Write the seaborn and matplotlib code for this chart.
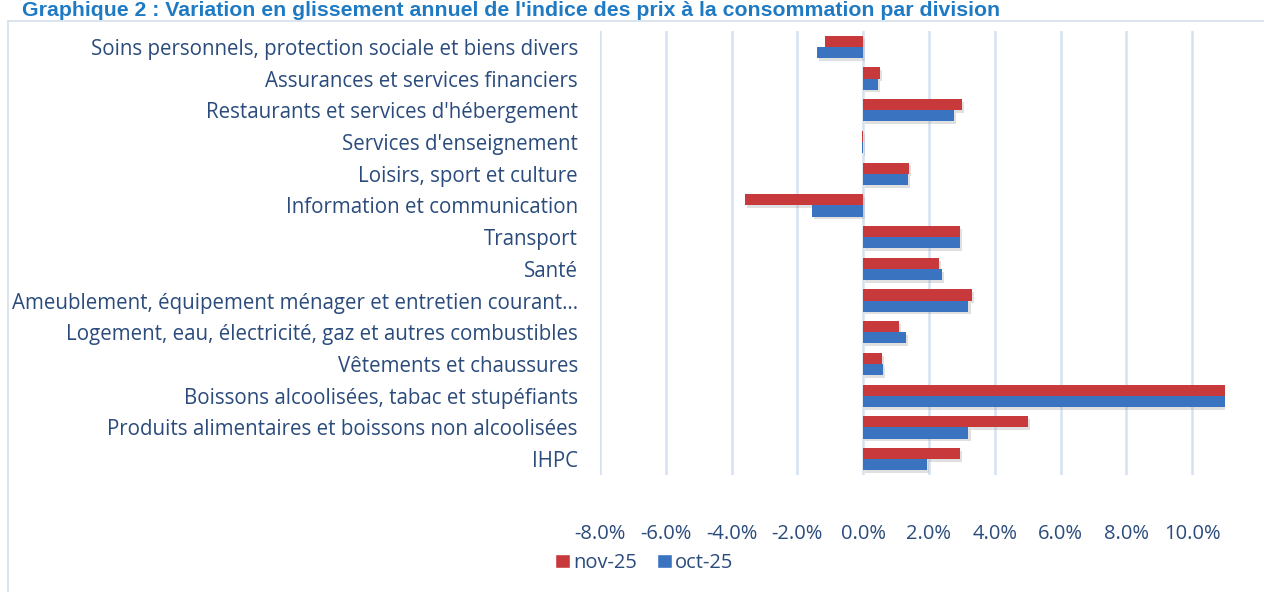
import matplotlib
matplotlib.use("Agg")
import matplotlib.pyplot as plt
import matplotlib.patheffects as pe
from matplotlib.ticker import FuncFormatter
from matplotlib.patches import Rectangle
import pandas as pd
import seaborn as sns

categories = [
    "Soins personnels, protection sociale et biens divers",
    "Assurances et services financiers",
    "Restaurants et services d'hébergement",
    "Services d'enseignement",
    "Loisirs, sport et culture",
    "Information et communication",
    "Transport",
    "Santé",
    "Ameublement, équipement ménager et entretien courant…",
    "Logement, eau, électricité, gaz et autres combustibles",
    "Vêtements et chaussures",
    "Boissons alcoolisées, tabac et stupéfiants",
    "Produits alimentaires et boissons non alcoolisées",
    "IHPC",
]
nov_25 = [-1.15, 0.50, 3.00, -0.03, 1.40, -3.60, 2.95, 2.30, 3.30, 1.10, 0.57, 11.6, 5.00, 2.95]
oct_25 = [-1.40, 0.45, 2.75, -0.03, 1.35, -1.55, 2.95, 2.40, 3.20, 1.30, 0.60, 11.6, 3.20, 1.95]
series_names = ["nov-25", "oct-25"]
x_ticks = [-8, -6, -4, -2, 0, 2, 4, 6, 8, 10]

title = "Graphique 2 : Variation en glissement annuel de l'indice des prix à la consommation par division"

df = pd.DataFrame({
    "Catégorie": categories * 2,
    "Valeur": nov_25 + oct_25,
    "Période": [series_names[0]] * len(categories) + [series_names[1]] * len(categories),
})

sns.set_theme(style="white")
plt.rcParams["font.family"] = ["Open Sans", "DejaVu Sans"]

text_color = "#2A4B7C"
red = "#C8393B"
blue = "#3A73C0"
grid_color = "#D5E1F2"

fig = plt.figure(figsize=(12.64, 5.92), dpi=100)
ax = fig.add_axes([600 / 1264, 1 - 475 / 592, 625 / 1264, 444 / 592])

sns.barplot(
    data=df, x="Valeur", y="Catégorie", hue="Période",
    order=categories, hue_order=series_names,
    palette=[red, blue], orient="h", width=0.7, gap=0,
    saturation=1, ax=ax, legend=True,
)

for p in ax.patches:
    p.set_linewidth(0)
    p.set_path_effects([pe.SimplePatchShadow(offset=(1.5, -2), shadow_rgbFace="#9a9a9a", alpha=0.3), pe.Normal()])

ax.set_xlim(-8, 11)
ax.set_xticks(x_ticks)
ax.xaxis.set_major_formatter(FuncFormatter(lambda v, _: f"{v:.1f}%"))
ax.grid(axis="x", color=grid_color, linewidth=1.8)
ax.grid(axis="y", visible=False)
ax.set_axisbelow(True)
for s in ax.spines.values():
    s.set_visible(False)
ax.set_xlabel("")
ax.set_ylabel("")
ax.tick_params(axis="x", length=0, pad=35, labelsize=14.5, labelcolor=text_color)
ax.tick_params(axis="y", length=0, pad=16, labelsize=14.8, labelcolor=text_color)

leg = ax.get_legend()
handles = leg.legend_handles
leg.remove()
fig.legend(handles, series_names, loc="center", bbox_to_anchor=(644 / 1264, 1 - 563 / 592),
           ncol=2, frameon=False, fontsize=14.5, labelcolor=text_color,
           handlelength=0.75, handleheight=0.75, handletextpad=0.15, columnspacing=1.0)

# frame of chart area
fig.patches.append(Rectangle((8 / 1264, -0.1), 1.2, 1 - 21 / 592 + 0.1, transform=fig.transFigure,
                             fill=False, edgecolor="#D5DFEE", linewidth=1.2))

fig.text(22 / 1264, 1 - 16 / 592, title, ha="left", va="baseline", fontsize=15.3,
         fontweight="bold", color="#1F7AC4",
         family=["Liberation Sans Narrow", "Liberation Sans", "DejaVu Sans"])

fig.savefig("out.png", dpi=100)
